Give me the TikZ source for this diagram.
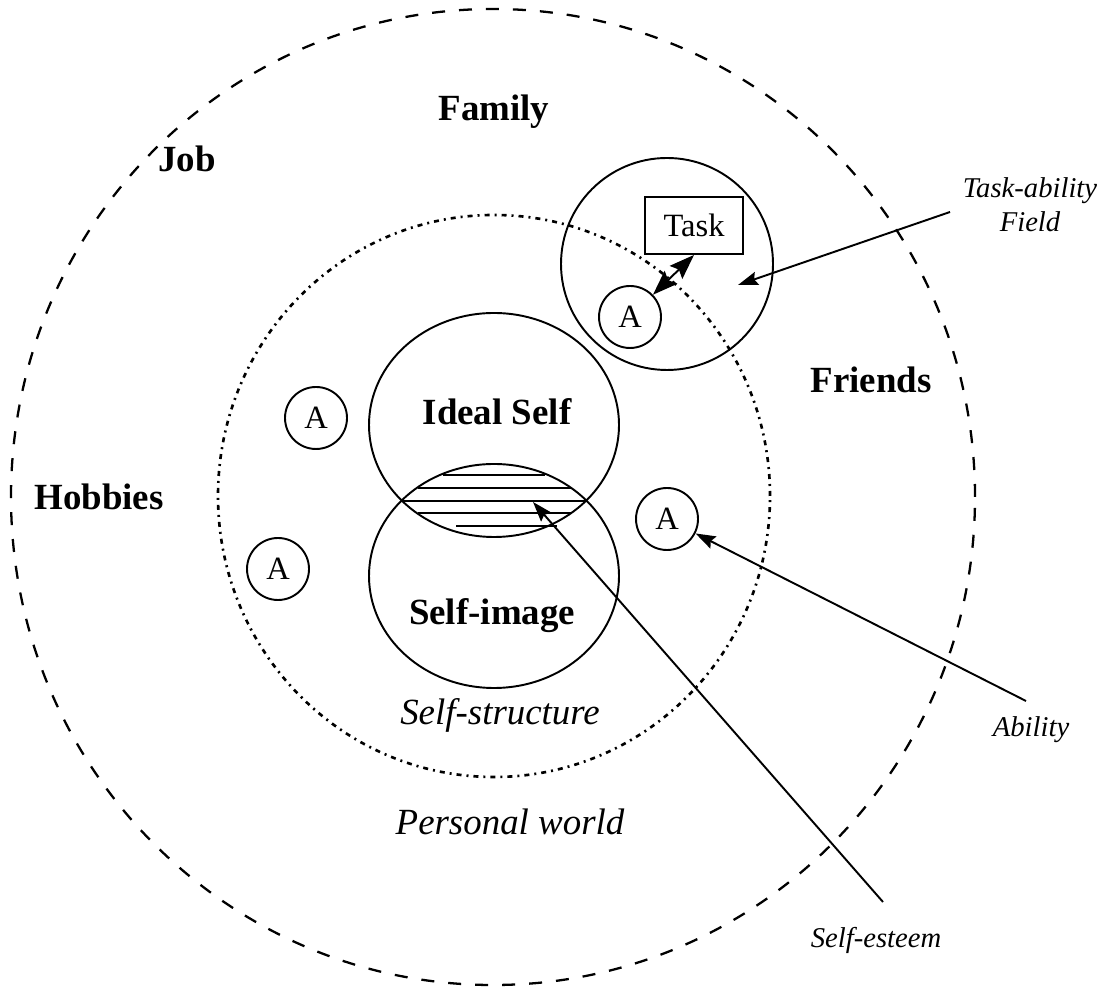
\documentclass[tikz,border=0pt]{standalone}
\usepackage{fontspec}
\setmainfont{Liberation Serif}
\usetikzlibrary{arrows.meta}

\begin{document}
\begin{tikzpicture}[
    acircle/.style={shape=circle, draw=black, line width=1.1pt, minimum size=1.24cm, inner sep=0pt, font=\fontsize{18.5}{22}\selectfont},
    taskbox/.style={shape=rectangle, draw=black, line width=1.1pt, minimum width=1.96cm, minimum height=1.14cm, inner sep=0pt, font=\fontsize{18.5}{22}\selectfont},
    boldlabel/.style={anchor=base, inner sep=0pt, font=\fontsize{21}{25}\selectfont\bfseries},
    itallabel/.style={anchor=base, inner sep=0pt, font=\fontsize{21}{25}\selectfont\itshape},
    smalllabel/.style={anchor=base, inner sep=0pt, font=\fontsize{16.3}{19.3}\selectfont\itshape},
    pointer/.style={line width=1.1pt, -{Stealth[length=0.4cm, width=0.27cm, inset=0.06cm]}}
]
% Grid for drafting
%\draw[step=1cm,yellow,very thin] (0,0) grid (22,20);
\useasboundingbox (0,0) rectangle (22.18,19.78);

% Coordinates
\coordinate (world_center) at (9.86,9.84);
\coordinate (structure_center) at (9.88,9.86);
\coordinate (ideal_center) at (9.88,11.28);
\coordinate (image_center) at (9.88,8.26);
\coordinate (field_center) at (13.34,14.50);

\coordinate (field_tail) at (19.00,15.54);
\coordinate (field_tip) at (14.76,14.08);
\coordinate (ability_tail) at (20.52,5.76);
\coordinate (esteem_tail) at (17.66,1.74);
\coordinate (esteem_tip) at (10.66,9.74);

% Circles

% personal world
\draw[line width=1.3pt, dash pattern=on 0.26cm off 0.28cm] (world_center) ellipse [x radius=9.64, y radius=9.76];

% self-structure
\draw[line width=1.5pt, dash pattern=on 0.1cm off 0.1cm on 0.04cm off 0.1cm] (structure_center) ellipse [x radius=5.52, y radius=5.62];

% ideal self and self-image
\draw[line width=1.1pt] (ideal_center) ellipse [x radius=2.50, y radius=2.24];
\draw[line width=1.1pt] (image_center) ellipse [x radius=2.50, y radius=2.24];

% task-ability field
\draw[line width=1.1pt] (field_center) circle [radius=2.12];

% Hatching (self-esteem)
\draw[line width=1.4pt] (8.86,10.28) -- (10.90,10.28);
\draw[line width=1.4pt] (8.36,10.02) -- (11.44,10.02);
\draw[line width=1.4pt] (8.06,9.76) -- (11.70,9.76);
\draw[line width=1.4pt] (8.36,9.52) -- (11.44,9.52);
\draw[line width=1.4pt] (9.12,9.26) -- (11.14,9.26);

% Abilities and task
\node[taskbox] (task) at (13.88,15.27) {Task};
\node[acircle] (a_task) at (12.60,13.44) {A};
\node[acircle] (a_left_up) at (6.32,11.42) {A};
\node[acircle] (a_left_down) at (5.56,8.40) {A};
\node[acircle] (a_right) at (13.34,9.40) {A};

% Labels
\node[boldlabel] (family) at (9.88,17.36) {Family};
\node[boldlabel] (job) at (3.74,16.34) {Job};
\node[boldlabel] (friends) at (17.42,11.92) {Friends};
\node[boldlabel] (hobbies) at (1.98,9.58) {Hobbies};
\node[boldlabel] (ideal) at (9.94,11.28) {Ideal Self};
\node[boldlabel] (image) at (9.84,7.28) {Self-image};
\node[itallabel] (structure) at (10.00,5.28) {Self-structure};
\node[itallabel] (world) at (10.20,3.08) {Personal world};
\node[smalllabel, anchor=center, align=center] (field_label) at (20.60,15.68) {Task-ability\\Field};
\node[smalllabel] (ability_label) at (20.62,5.04) {Ability};
\node[smalllabel] (esteem_label) at (17.52,0.82) {Self-esteem};

% Arrows
\draw[line width=1.1pt, {Stealth[length=0.5cm, width=0.36cm, inset=0.08cm]}-{Stealth[length=0.5cm, width=0.36cm, inset=0.08cm]}] (a_task) -- (task.south);
\draw[pointer] (field_tail) -- (field_tip);
\draw[pointer] (ability_tail) -- (a_right);
\draw[pointer] (esteem_tail) -- (esteem_tip);

\end{tikzpicture}
\end{document}
